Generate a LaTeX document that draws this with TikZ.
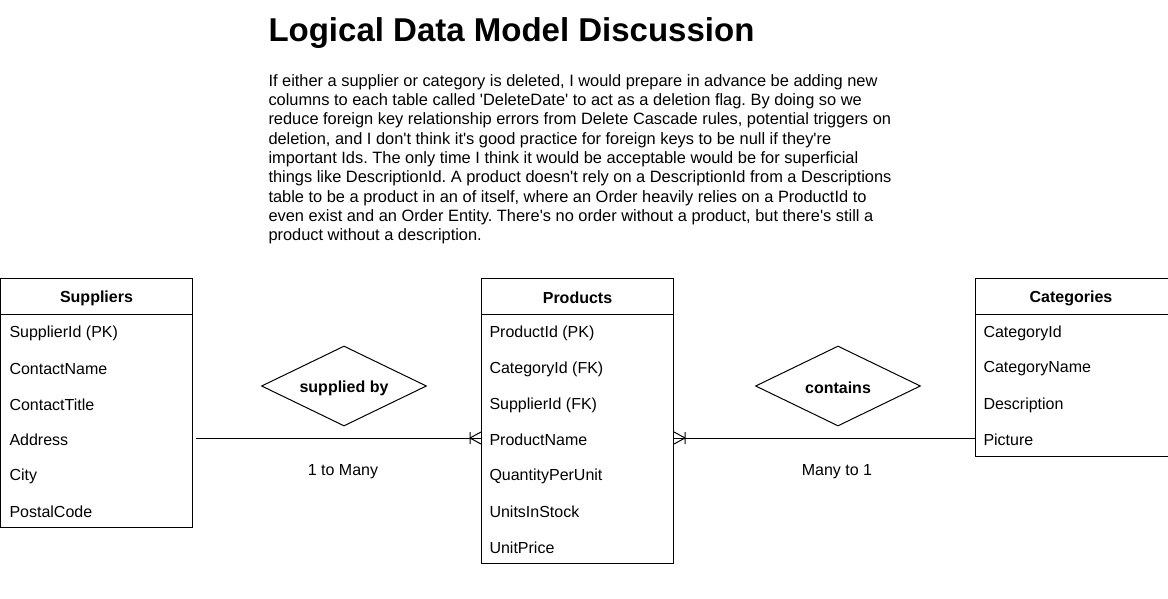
\documentclass[tikz,border=0pt]{standalone}
\usepackage{fontspec}
\setmainfont{Liberation Sans}
\usetikzlibrary{shapes.geometric,calc}
\newcommand{\q}{\textquotesingle}
\newcommand{\lowr}[1]{\raisebox{-2pt}[\height][\depth]{#1}}
\begin{document}
\begin{tikzpicture}[x=1pt,y=-1pt,line width=1pt,
  tbl/.style={draw,minimum width=192pt,inner sep=0pt,anchor=north west},
  hdr/.style={font=\fontsize{16}{19}\selectfont\bfseries,inner sep=0pt},
  rowtxt/.style={font=\fontsize{16}{19}\selectfont,anchor=west,inner sep=0pt},
  rel/.style={draw,diamond,minimum width=165pt,minimum height=80pt,aspect=2,inner sep=0pt,font=\fontsize{16}{19}\selectfont\bfseries},
  lbl/.style={font=\fontsize{16}{19}\selectfont,inner sep=0pt},
  conn/.style={draw,line width=1pt}]
\useasboundingbox (0,0) rectangle (1168,599);

% title and discussion
\node[anchor=base west,inner sep=0pt,font=\fontsize{33}{40}\selectfont\bfseries] (title) at (268,42) {Logical Data Model Discussion};
\node[anchor=north west,inner sep=0pt,align=left,font=\fontsize{16.4}{19.3}\selectfont\frenchspacing] (para) at (268,74) {If either a supplier or category is deleted, I would prepare in advance be adding new\\
columns to each table called \q DeleteDate\q{} to act as a deletion flag. By doing so we\\
reduce foreign key relationship errors from Delete Cascade rules, potential triggers on\\
deletion, and I don\q t think it\q s good practice for foreign keys to be null if they\q re\\
important Ids. The only time I think it would be acceptable would be for superficial\\
things like DescriptionId. A product doesn\q t rely on a DescriptionId from a Descriptions\\
table to be a product in an of itself, where an Order heavily relies on a ProductId to\\
even exist and an Order Entity. There\q s no order without a product, but there\q s still a\\
product without a description.};

% Suppliers
\node[tbl,minimum height=249pt] (sup) at (0,278) {};
\draw ([yshift=-36pt]sup.north west) -- ([yshift=-36pt]sup.north east);
\node[hdr] (suph) at ([yshift=-20pt]sup.north) {Suppliers};
\node[rowtxt] (s1) at (9,333) {SupplierId (PK)};
\node[rowtxt] (s2) at (9,369) {ContactName};
\node[rowtxt] (s3) at (9,405) {ContactTitle};
\node[rowtxt] (s4) at (9,440) {Address};
\node[rowtxt] (s5) at (9,476) {City};
\node[rowtxt] (s6) at (9,512) {PostalCode};

% Products
\node[tbl,minimum height=285pt] (prod) at (481,278) {};
\draw ([yshift=-36pt]prod.north west) -- ([yshift=-36pt]prod.north east);
\node[hdr] (prodh) at ([yshift=-20pt]prod.north) {Products};
\node[rowtxt] (p1) at (489,333) {ProductId (PK)};
\node[rowtxt] (p2) at (489,369) {CategoryId (FK)};
\node[rowtxt] (p3) at (489,405) {SupplierId (FK)};
\node[rowtxt] (p4) at (489,440) {ProductName};
\node[rowtxt] (p5) at (489,476) {QuantityPerUnit};
\node[rowtxt] (p6) at (489,512) {UnitsInStock};
\node[rowtxt] (p7) at (489,548) {UnitPrice};

% Categories
\node[tbl,minimum width=200pt,minimum height=178pt] (cat) at (975,278) {};
\draw ([yshift=-36pt]cat.north west) -- ([yshift=-36pt]cat.north west -| 1168,0);
\node[hdr] (cath) at (1071,298) {Categories};
\node[rowtxt] (c1) at (983,333) {CategoryId};
\node[rowtxt] (c2) at (983,369) {CategoryName};
\node[rowtxt] (c3) at (983,405) {Description};
\node[rowtxt] (c4) at (983,440) {Picture};

% relationships
\node[rel] (supby) at (344,386) {\lowr{supplied by}};
\node[rel] (contains) at (838,386) {\lowr{contains}};
\node[lbl] (l1) at (343,472) {1 to Many};
\node[lbl] (l2) at (837,472) {Many to 1};

% connectors
\coordinate (pa) at (prod.west |- 0,438);
\coordinate (pb) at (prod.east |- 0,438);
\coordinate (cb) at (cat.west |- 0,438);
\coordinate (a1) at ($(sup.east |- pa)+(3,0)$);
\draw[conn] (a1) -- (pa);
\draw[conn] ($(pa)+(-11,0)$) -- ($(pa)+(0,-6)$) ($(pa)+(-11,0)$) -- ($(pa)+(0,6)$) ($(pa)+(-11,-6)$) -- ($(pa)+(-11,6)$);
\draw[conn] (cb) -- (pb);
\draw[conn] ($(pb)+(11,0)$) -- ($(pb)+(0,-6)$) ($(pb)+(11,0)$) -- ($(pb)+(0,6)$) ($(pb)+(11,-6)$) -- ($(pb)+(11,6)$);
\end{tikzpicture}
\end{document}
